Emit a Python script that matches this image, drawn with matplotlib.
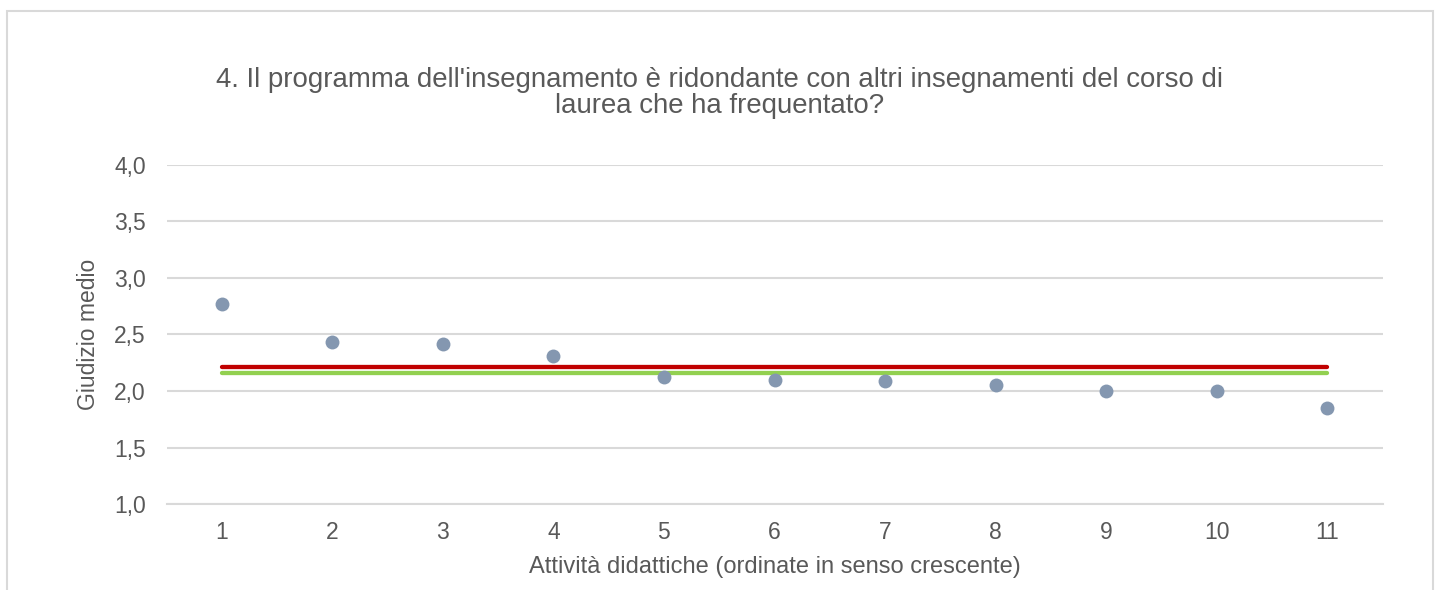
import numpy as np
import matplotlib
matplotlib.use("Agg")
import matplotlib.pyplot as plt
from matplotlib.patches import Rectangle

plt.rcParams['font.family'] = ['Liberation Sans', 'DejaVu Sans']

# Dati
attivita = [1, 2, 3, 4, 5, 6, 7, 8, 9, 10, 11]
giudizio = [2.77, 2.43, 2.42, 2.31, 2.12, 2.10, 2.09, 2.05, 2.00, 2.00, 1.85]
media_rossa = 2.21
media_verde = 2.16
yticks = [1.0, 1.5, 2.0, 2.5, 3.0, 3.5, 4.0]

titolo = ("4. Il programma dell'insegnamento è ridondante con altri insegnamenti del corso di\n"
          "laurea che ha frequentato?")

grigio = "#595959"

fig = plt.figure(figsize=(14.4, 5.9), dpi=100)
ax = fig.add_axes([166.5 / 1440, 86 / 590, 1216 / 1440, 339 / 590])

# bordo del grafico
fig.patches.append(Rectangle((7 / 1440, -0.1), 1426 / 1440, 1.1 - 10.5 / 590,
                             transform=fig.transFigure, fill=False,
                             edgecolor="#D9D9D9", linewidth=1.5))

ax.plot([attivita[0], attivita[-1]], [media_verde, media_verde], color="#92D050",
        linewidth=3.1, solid_capstyle="round", zorder=3)
ax.plot([attivita[0], attivita[-1]], [media_rossa, media_rossa], color="#C00000",
        linewidth=3.1, solid_capstyle="round", zorder=3)
ax.scatter(attivita, giudizio, s=100, color="#8497B0", zorder=4, linewidths=0)

ax.set_xlim(0.5, 11.5)
ax.set_ylim(1.0, 4.0)
ax.set_xticks(attivita)
ax.set_yticks(yticks)
ax.set_yticklabels([f"{v:.1f}".replace(".", ",") for v in yticks])
ax.grid(axis="y", color="#D9D9D9", linewidth=1.5)
ax.set_axisbelow(True)
for s in ["top", "right", "left"]:
    ax.spines[s].set_visible(False)
ax.spines["bottom"].set_color("#D9D9D9")
ax.spines["bottom"].set_linewidth(1.5)
ax.tick_params(axis="both", length=0, labelsize=16.5, labelcolor=grigio)
ax.tick_params(axis="y", pad=15)
ax.tick_params(axis="x", pad=12)

ax.set_xlabel("Attività didattiche (ordinate in senso crescente)", fontsize=17,
              color=grigio, labelpad=9)
ax.set_ylabel("Giudizio medio", fontsize=16.5, color=grigio, labelpad=10)

fig.text(0.5, 1 - 93 / 590, titolo, ha="center", va="center", fontsize=19.9,
         color=grigio, linespacing=1.0)

fig.savefig("out.png", dpi=100, facecolor="white")
